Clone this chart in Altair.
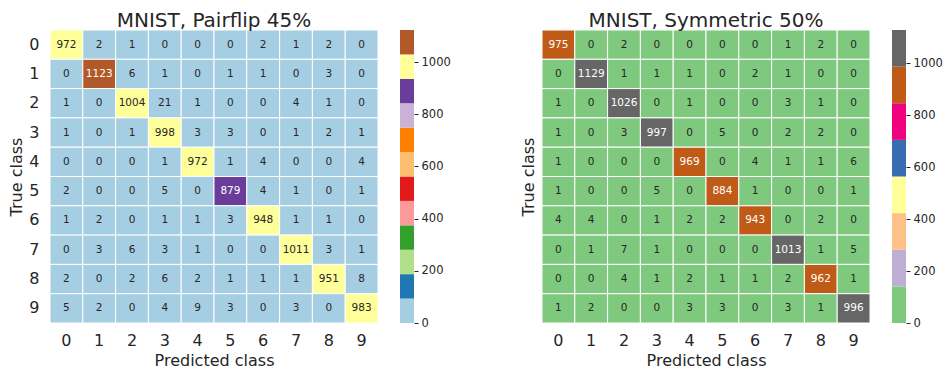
import altair as alt
import pandas as pd

classes = [0, 1, 2, 3, 4, 5, 6, 7, 8, 9]

pairflip_title = "MNIST, Pairflip 45%"
pairflip_rows = [
    [972, 2, 1, 0, 0, 0, 2, 1, 2, 0],
    [0, 1123, 6, 1, 0, 1, 1, 0, 3, 0],
    [1, 0, 1004, 21, 1, 0, 0, 4, 1, 0],
    [1, 0, 1, 998, 3, 3, 0, 1, 2, 1],
    [0, 0, 0, 1, 972, 1, 4, 0, 0, 4],
    [2, 0, 0, 5, 0, 879, 4, 1, 0, 1],
    [1, 2, 0, 1, 1, 3, 948, 1, 1, 0],
    [0, 3, 6, 3, 1, 0, 0, 1011, 3, 1],
    [2, 0, 2, 6, 2, 1, 1, 1, 951, 8],
    [5, 2, 0, 4, 9, 3, 0, 3, 0, 983],
]
pairflip_colors = ["#a6cee3", "#1f78b4", "#b2df8a", "#33a02c", "#fb9a99", "#e31a1c",
                   "#fdbf6f", "#ff7f00", "#cab2d6", "#6a3d9a", "#ffff99", "#b15928"]
pairflip_dark_bins = [1, 3, 5, 7, 9, 11]

symmetric_title = "MNIST, Symmetric 50%"
symmetric_rows = [
    [975, 0, 2, 0, 0, 0, 0, 1, 2, 0],
    [0, 1129, 1, 1, 1, 0, 2, 1, 0, 0],
    [1, 0, 1026, 0, 1, 0, 0, 3, 1, 0],
    [1, 0, 3, 997, 0, 5, 0, 2, 2, 0],
    [1, 0, 0, 0, 969, 0, 4, 1, 1, 6],
    [1, 0, 0, 5, 0, 884, 1, 0, 0, 1],
    [4, 4, 0, 1, 2, 2, 943, 0, 2, 0],
    [0, 1, 7, 1, 0, 0, 0, 1013, 1, 5],
    [0, 0, 4, 1, 2, 1, 1, 2, 962, 1],
    [1, 2, 0, 0, 3, 3, 0, 3, 1, 996],
]
symmetric_colors = ["#7fc97f", "#beaed4", "#fdc086", "#ffff99",
                    "#386cb0", "#f0027f", "#bf5b17", "#666666"]
symmetric_dark_bins = [4, 5, 6, 7]

cbar_ticks = [0, 200, 400, 600, 800, 1000]

FONT = "DejaVu Sans"
INK = "#262626"
W, H = 328, 293
TITLE_SIZE = 20
TITLE_OFFSET = -1


def long_table(rows):
    recs = []
    for t, row in zip(classes, rows):
        for p, v in zip(classes, row):
            recs.append({"true": t, "pred": p, "v": v})
    return pd.DataFrame(recs)


def title_params(text):
    return alt.TitleParams(text, fontSize=TITLE_SIZE, font=FONT, color=INK,
                           fontWeight="normal", anchor="middle", offset=TITLE_OFFSET)


def heatmap(rows, colors, dark_bins, title, show_ylabels):
    df = long_table(rows)
    vmax = max(max(r) for r in rows)
    n = len(colors)
    base = alt.Chart(df)
    rect = base.mark_rect(stroke="white", strokeWidth=1).encode(
        x=alt.X("pred:O", scale=alt.Scale(paddingInner=0, paddingOuter=0),
                axis=alt.Axis(title="Predicted class", labelAngle=0, domain=False,
                              ticks=False, labelPadding=9, labelFontSize=16,
                              titleFontSize=16, titleFontWeight="normal",
                              titlePadding=4, labelColor=INK, titleColor=INK,
                              labelFont=FONT, titleFont=FONT)),
        y=alt.Y("true:O", scale=alt.Scale(paddingInner=0, paddingOuter=0),
                axis=alt.Axis(title="True class", domain=False, ticks=False,
                              labels=show_ylabels, labelPadding=11, labelFontSize=16,
                              titleFontSize=16, titleFontWeight="normal",
                              titlePadding=4 if show_ylabels else 6,
                              labelColor=INK, titleColor=INK,
                              labelFont=FONT, titleFont=FONT)),
        color=alt.Color("v:Q", scale=alt.Scale(type="quantize", domain=[0, vmax],
                                               range=colors, nice=False),
                        legend=None),
    )
    dark_test = f"indexof({dark_bins}, min({n - 1}, floor(datum.v * {n} / {vmax}))) >= 0"
    text = base.mark_text(fontSize=10.5, font=FONT, baseline="middle").encode(
        x="pred:O", y="true:O", text="v:Q",
        color=alt.condition(dark_test, alt.value("white"), alt.value(INK)),
    )
    return alt.layer(rect, text).properties(
        width=W, height=H, title=title_params(title),
    ).resolve_scale(color="independent")


def colorbar(rows, colors):
    vmax = max(max(r) for r in rows)
    n = len(colors)
    cdf = pd.DataFrame({
        "lo": [i * vmax / n for i in range(n)],
        "hi": [(i + 1) * vmax / n for i in range(n)],
        "c": colors,
    })
    return alt.Chart(cdf).mark_rect().encode(
        x=alt.value(0), x2=alt.value(14),
        y=alt.Y("lo:Q", scale=alt.Scale(domain=[0, vmax], nice=False, zero=True),
                axis=alt.Axis(orient="right", values=cbar_ticks, title=None, format="d",
                              domain=False, ticks=True, tickSize=4, tickColor=INK,
                              labelPadding=3, labelFontSize=11.5, labelColor=INK,
                              labelFont=FONT, grid=False)),
        y2="hi:Q",
        color=alt.Color("c:N", scale=None),
    ).properties(width=14, height=H, title=title_params(" "))


left = alt.hconcat(heatmap(pairflip_rows, pairflip_colors, pairflip_dark_bins, pairflip_title, True),
                   colorbar(pairflip_rows, pairflip_colors), spacing=21)
right = alt.hconcat(heatmap(symmetric_rows, symmetric_colors, symmetric_dark_bins, symmetric_title, False),
                    colorbar(symmetric_rows, symmetric_colors), spacing=21)

chart = alt.hconcat(left, right, spacing=69).properties(
    padding={"left": 0, "top": 2, "right": 0, "bottom": 0}
).configure_view(stroke=None)

chart.save("out.html", embed_options={"renderer": "svg", "actions": False})
